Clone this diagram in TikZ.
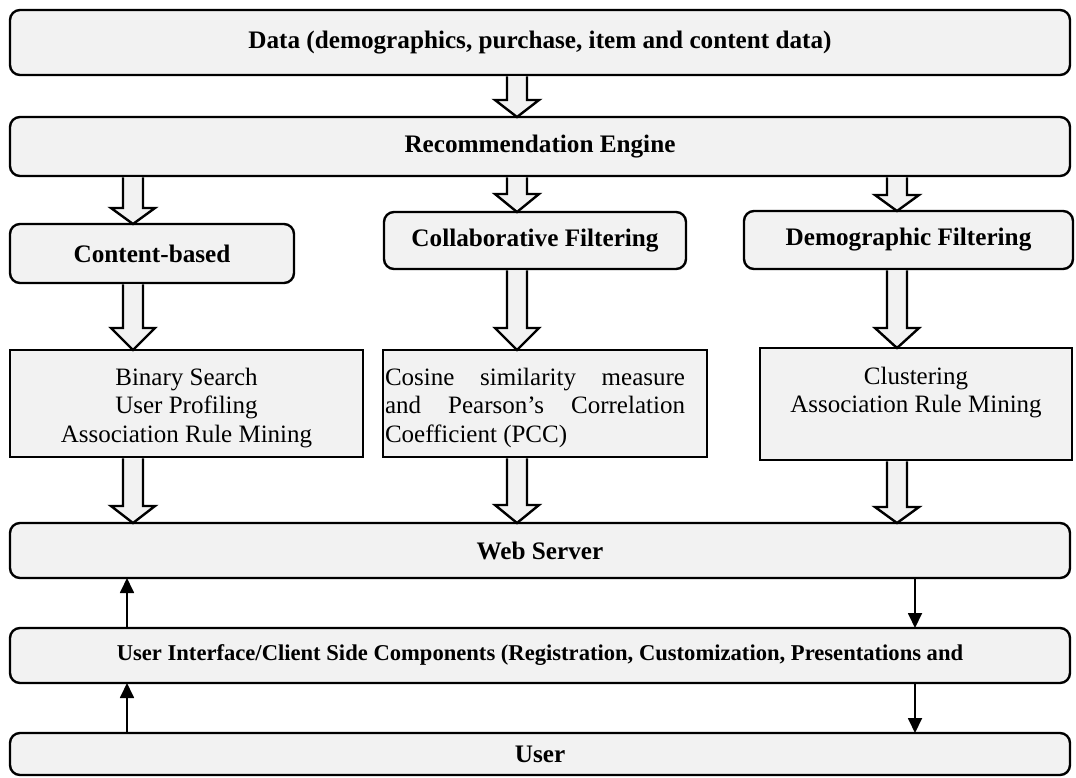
\documentclass[tikz,border=0pt]{standalone}
\usepackage{fontspec}
\setmainfont{Liberation Serif}
\usetikzlibrary{calc,arrows.meta}
\definecolor{boxfill}{HTML}{F2F2F2}
\newcommand{\blk}[4]{%
  \draw[blockarrow] ($(#2.south -| #1)+(-5pt,-0.7pt)$) -- ($(#3.north -| #1)+(-5pt,#4)$) -- ($(#3.north -| #1)+(-11pt,#4)$) -- (#3.north -| #1) -- ($(#3.north -| #1)+(11pt,#4)$) -- ($(#3.north -| #1)+(5pt,#4)$) -- ($(#2.south -| #1)+(5pt,-0.7pt)$);}
\tikzset{
  base/.style={draw=black, fill=boxfill, line width=1.2pt, inner sep=0pt, outer sep=0pt},
  rbox/.style={base, rounded corners=5pt, font=\fontsize{12.6}{14.25}\selectfont\bfseries},
  sbox/.style={base, align=center, font=\fontsize{12.5}{14.25}\selectfont},
  blockarrow/.style={draw=black, fill=boxfill, line width=1.2pt, line join=miter},
  thinarrow/.style={draw=black, line width=0.9pt, -{Triangle[length=7.5pt,width=7pt]}},
}
\begin{document}
\begin{tikzpicture}[x=0.5pt,y=-0.5pt]
\useasboundingbox (0,0) rectangle (1076,777);
\node[rbox, minimum width=530pt, minimum height=32.5pt] (data) at (540,42.5) {Data (demographics, purchase, item and content data)};
\node[rbox, minimum width=530pt, minimum height=29.5pt] (rec) at (540,146.5) {Recommendation Engine};
\node[rbox, minimum width=142pt, minimum height=29.5pt] (cb) at (152,253.5) {Content-based};
\node[rbox, minimum width=151pt, minimum height=28.5pt] (cf) at (535,240.5) {Collaborative Filtering};
\node[rbox, minimum width=164.5pt, minimum height=29pt] (df) at (908.5,240) {Demographic Filtering};
\node[sbox, minimum width=176.5pt, minimum height=53.5pt] (bs) at (186.5,403.5) {\rule{0pt}{13pt}Binary Search\\User Profiling\\Association Rule Mining};
\node[sbox, minimum width=162pt, minimum height=53.5pt] (cs) at (545,403.5) {\begin{minipage}{150pt}\rule{0pt}{13pt}Cosine similarity measure\linebreak and Pearson’s Correlation\linebreak Coefficient (PCC)\end{minipage}\hspace{10pt}};
\node[sbox, minimum width=156pt, minimum height=56pt] (cl) at (916,404) {Clustering\\Association Rule Mining\\\mbox{}};
\node[rbox, minimum width=530pt, minimum height=27.5pt] (web) at (540,550.5) {Web Server};
\node[rbox, minimum width=530pt, minimum height=27.5pt, font=\fontsize{11.3}{13}\selectfont\bfseries] (ui) at (540,655.5) {User Interface/Client Side Components (Registration, Customization, Presentations and};
\node[rbox, minimum width=530pt, minimum height=21pt] (user) at (540,754) {User};
\coordinate (xa) at (133,0);
\coordinate (xb) at (517,0);
\coordinate (xc) at (897,0);
\coordinate (xl) at (127,0);
\coordinate (xr) at (915,0);
\blk{xb}{data}{rec}{8.5pt}
\blk{xa}{rec}{cb}{8pt}
\blk{xb}{rec}{cf}{9pt}
\blk{xc}{rec}{df}{8pt}
\blk{xa}{cb}{bs}{11pt}
\blk{xb}{cf}{cs}{11pt}
\blk{xc}{df}{cl}{10pt}
\blk{xa}{bs}{web}{8.5pt}
\blk{xb}{cs}{web}{9pt}
\blk{xc}{cl}{web}{8pt}
\draw[thinarrow] (ui.north -| xl) -- (web.south -| xl);
\draw[thinarrow] (user.north -| xl) -- (ui.south -| xl);
\draw[thinarrow] (web.south -| xr) -- (ui.north -| xr);
\draw[thinarrow] (ui.south -| xr) -- (user.north -| xr);
\end{tikzpicture}
\end{document}
